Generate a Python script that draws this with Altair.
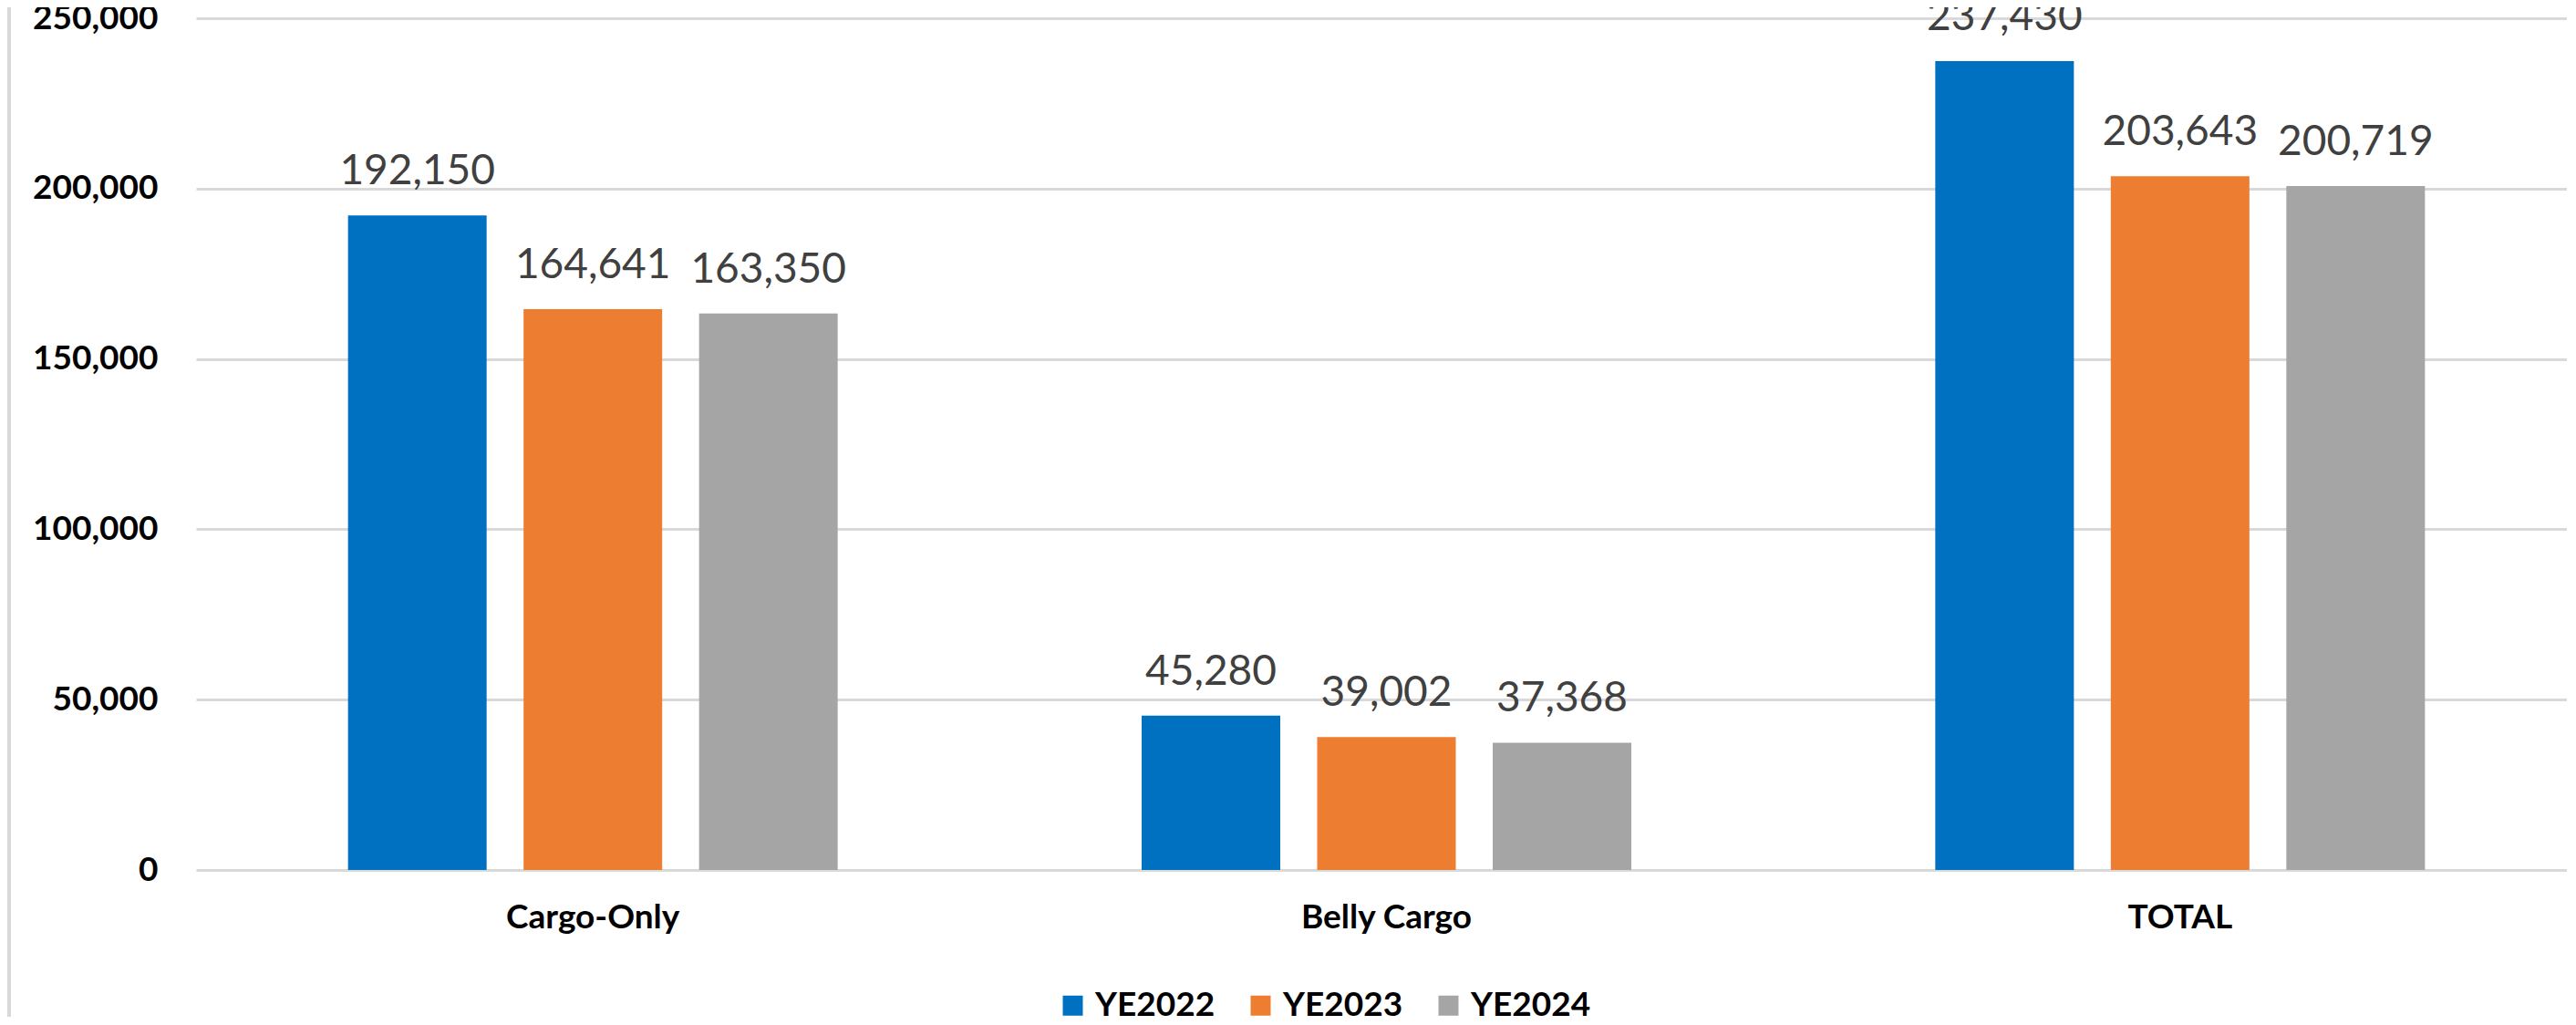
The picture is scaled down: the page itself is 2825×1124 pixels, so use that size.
import altair as alt
import pandas as pd

categories = ["Cargo-Only", "Belly Cargo", "TOTAL"]
series = ["YE2022", "YE2023", "YE2024"]
ye2022 = [192150, 45280, 237430]
ye2023 = [164641, 39002, 203643]
ye2024 = [163350, 37368, 200719]
colors = ["#0070C0", "#ED7D31", "#A5A5A5"]
y_ticks = [0, 50000, 100000, 150000, 200000, 250000]

rows = []
for s, vals in zip(series, [ye2022, ye2023, ye2024]):
    for c, v in zip(categories, vals):
        rows.append({"category": c, "series": s, "value": v})
df = pd.DataFrame(rows)

FONT = "Lato"

x_enc = alt.X(
    "category:N",
    sort=categories,
    scale=alt.Scale(range=[0, 2611], paddingInner=0.383, paddingOuter=0.1915),
    axis=alt.Axis(
        title=None, labelAngle=0, ticks=False, domain=False, grid=False,
        labelPadding=63, labelBaseline="alphabetic", labelLimit=0,
        labelFont=FONT, labelFontWeight="bold", labelFontSize=37, labelColor="#000000",
    ),
)
xoff_enc = alt.XOffset(
    "series:N", sort=series, scale=alt.Scale(paddingInner=0.2104, paddingOuter=0)
)
y_enc = alt.Y(
    "value:Q",
    scale=alt.Scale(domain=[0, 250000], nice=False),
    axis=alt.Axis(
        title=None, values=y_ticks, format=",.0f", ticks=False, domain=False,
        grid=True, gridColor="#D9D9D9", gridWidth=3, labelLimit=0,
        labelPadding=42, labelFont=FONT, labelFontWeight="bold",
        labelFontSize=37, labelColor="#000000",
    ),
)
color_enc = alt.Color(
    "series:N",
    scale=alt.Scale(domain=series, range=colors),
    legend=alt.Legend(
        title=None, orient="none", legendX=943, legendY=1064,
        direction="horizontal", symbolType="square", symbolSize=484,
        symbolStrokeWidth=0, labelFont=FONT, labelFontWeight="bold",
        labelFontSize=37, labelColor="#000000", labelOffset=6, labelLimit=0,
        columnPadding=31, padding=0,
    ),
)

base = alt.Chart(df)
bars = base.mark_bar().encode(x=x_enc, xOffset=xoff_enc, y=y_enc, color=color_enc)
labels = base.mark_text(
    font=FONT, fontSize=46, color="#404040", baseline="alphabetic", dy=-34
).encode(x=x_enc, xOffset=xoff_enc, y=y_enc, text=alt.Text("value:Q", format=",.0f"))

border = alt.Chart(df).mark_rule(color="#D9D9D9", strokeWidth=4).encode(
    x=alt.value(-205), y=alt.value(-12), y2=alt.value(1096)
)

chart = (
    alt.layer(bars, labels, border)
    .properties(
        width=2600, height=934,
        autosize=alt.AutoSizeParams(type="none"),
        padding={"left": 207, "top": 12, "right": 0, "bottom": 161},
        background="white",
    )
    .configure_view(stroke=None)
)

chart.save("out.html", embed_options={"renderer": "svg", "actions": False})
